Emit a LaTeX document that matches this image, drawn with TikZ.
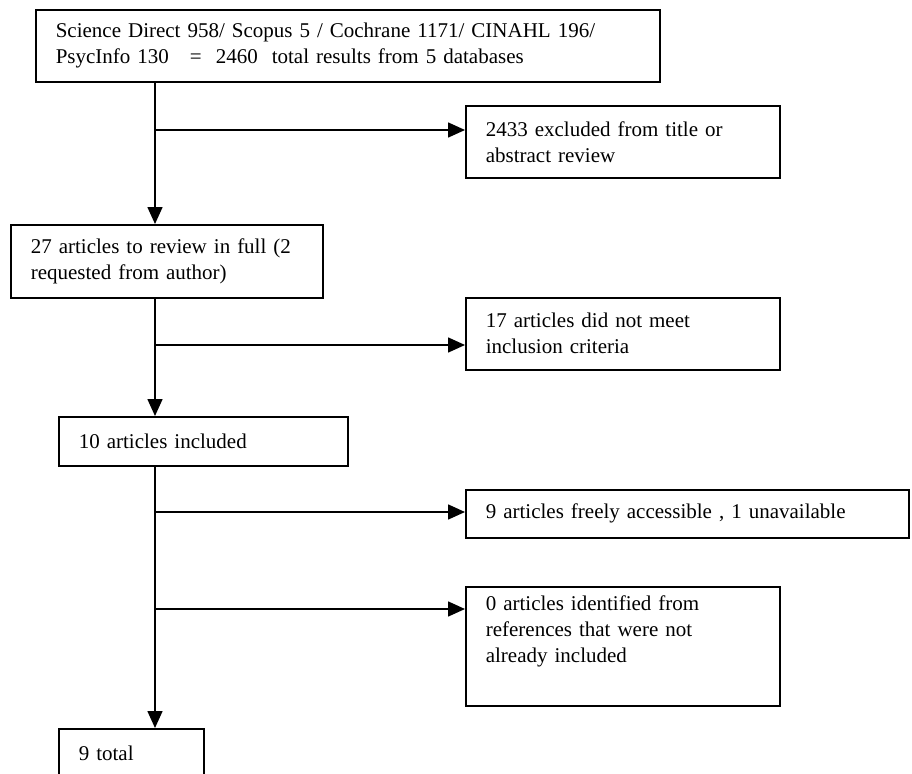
\documentclass[tikz,border=0pt]{standalone}
\usepackage{fontspec}
\setmainfont{Liberation Serif}
\usepackage{tikz}
\usetikzlibrary{shapes,arrows.meta,positioning}
\tikzstyle{blockWH} = [rectangle, draw, line width=1.6pt, fill=white, anchor=north west, align=left, inner xsep=20pt, inner ysep=0pt]
\tikzstyle{line} = [draw, line width=1.6pt, -{Triangle[length=17pt,width=15pt]}]

\begin{document}
\begin{tikzpicture}[x=1pt, y=-1pt,
  % misma fuente que el documento original (tipo Times)
  font=\fontsize{21}{26}\selectfont
  ]
  \useasboundingbox (0,0) rectangle (912,773);

    % nodes
    \node [blockWH, text width=584pt, minimum height=72pt] (search) at (35,9) {Science Direct 958/ Scopus 5 / Cochrane 1171/ CINAHL 196/\\PsycInfo 130 \ \ = \ 2460 \ total results from 5 databases};
    \node [blockWH, text width=274pt, minimum height=72pt] (excl_title) at (465,105) {2433 excluded from title or\\abstract review};
    \node [blockWH, text width=272pt, minimum height=73pt] (full_text) at (10,224) {27 articles to review in full (2\\requested from author)};
    \node [blockWH, text width=274pt, minimum height=72pt] (excl_crit) at (465,297) {17 articles did not meet\\inclusion criteria};
    \node [blockWH, text width=249pt, minimum height=49pt] (included) at (58,416) {10 articles included};
    \node [blockWH, text width=403pt, minimum height=48pt] (access) at (465,489) {9 articles freely accessible , 1 unavailable};
    \node [blockWH, text width=274pt, minimum height=119pt] (refs) at (465,586) {0 articles identified from\\references that were not\\already included\\\strut};
    \node [blockWH, text width=105pt, minimum height=50pt] (total) at (58,728) {9 total};

    % junctions on the main line
    \coordinate (j1) at (155,130);
    \coordinate (j2) at (155,345);
    \coordinate (j3) at (155,512);
    \coordinate (j4) at (155,609);

    % edges
    \path [line] (search.south -| j1) -- (full_text.north -| j1);
    \path [line] (j1) -- (j1 -| excl_title.west);
    \path [line] (full_text.south -| j2) -- (included.north -| j2);
    \path [line] (j2) -- (j2 -| excl_crit.west);
    \path [line] (included.south -| j3) -- (total.north -| j3);
    \path [line] (j3) -- (j3 -| access.west);
    \path [line] (j4) -- (j4 -| refs.west);

\end{tikzpicture}
\end{document}
